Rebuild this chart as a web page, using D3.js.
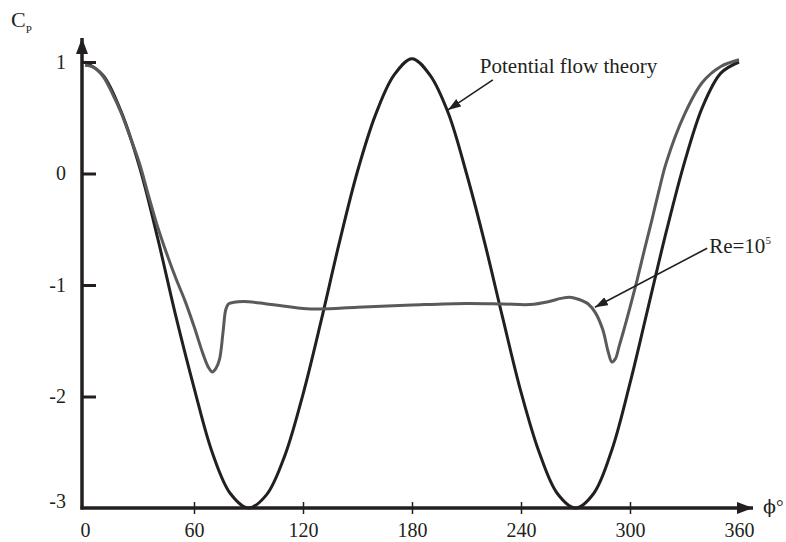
<!DOCTYPE html>
<html>
<head>
<meta charset="utf-8">
<script src="https://cdn.jsdelivr.net/npm/d3@7"></script>
<style>
  body { margin: 0; background: #fff; }
  svg { display: block; font-family: "Liberation Serif", "Times New Roman", serif; }
</style>
</head>
<body>
<svg id="chart"></svg>
<script>
//Data (phi in degrees, Cp)
const potentialPhi = [0, 10, 20, 30, 40, 50, 60, 70, 80, 90, 100, 110, 120, 130, 140, 150, 160, 170, 180,
                      190, 200, 210, 220, 230, 240, 250, 260, 270, 280, 290, 300, 310, 320, 330, 340, 350, 360];
const potentialCp = [1.0, 0.88, 0.55, 0.06, -0.58, -1.28, -1.92, -2.5, -2.87, -3.0, -2.88, -2.53, -1.98, -1.32, -0.62, 0.02, 0.53, 0.88, 1.03,
                     0.88, 0.54, 0.0, -0.62, -1.3, -1.96, -2.5, -2.87, -3.0, -2.87, -2.48, -1.88, -1.2, -0.52, 0.1, 0.6, 0.9, 1.0];

const rePhi = [0, 5, 10, 15, 20, 25, 30, 35, 40, 45, 50, 55, 60, 65, 68, 70, 72, 74, 76, 77.5, 79, 82, 90, 100, 110, 120, 130, 150, 180,
               210, 230, 245, 255, 262, 267, 272, 277, 281, 285, 288, 290, 292, 294, 297, 300, 304, 308, 312, 316, 320, 330, 340, 350, 360];
const reCp = [0.97, 0.95, 0.87, 0.72, 0.54, 0.32, 0.09, -0.2, -0.48, -0.72, -0.94, -1.14, -1.37, -1.62, -1.74, -1.78, -1.75, -1.67, -1.42, -1.22, -1.17, -1.155, -1.15, -1.17, -1.19, -1.21, -1.215, -1.2, -1.18,
              -1.165, -1.17, -1.175, -1.15, -1.12, -1.11, -1.13, -1.17, -1.25, -1.4, -1.6, -1.69, -1.66, -1.55, -1.38, -1.2, -0.95, -0.68, -0.42, -0.15, 0.1, 0.53, 0.82, 0.96, 1.02];

const xTicks = [0, 60, 120, 180, 240, 300, 360];
const yTicks = [-3, -2, -1, 0, 1];

//Annotations: label, tail point, tip point (phi, Cp)
const annotations = [
  {label: "Potential flow theory", tail: [224.5, 0.84], tip: [199.8, 0.57]},
  {label: "Re=10", sup: "5", tail: [342.5, -0.67], tip: [280.7, -1.2]}
];

const w = 786;
const h = 542;
const ink = "#231f20";
const grey = "#5a5a5a";

const xScale = d3.scaleLinear().domain([0, 360]).range([85, 739]);
const yScale = d3.scaleLinear().domain([-3, 1]).range([508, 62]);

const chart = d3.select("#chart").attr("width", w).attr("height", h);

//Arrow heads
const defs = chart.append("defs");
defs.append("marker")
    .attr("id", "bigArrow")
    .attr("viewBox", "0 0 16 12")
    .attr("refX", 16).attr("refY", 6)
    .attr("markerWidth", 16).attr("markerHeight", 12)
    .attr("markerUnits", "userSpaceOnUse")
    .attr("orient", "auto")
    .append("path").attr("d", "M0,0 L16,6 L0,12 Z").attr("fill", ink);
defs.append("marker")
    .attr("id", "smallArrow")
    .attr("viewBox", "0 0 13 9")
    .attr("refX", 13).attr("refY", 4.5)
    .attr("markerWidth", 13).attr("markerHeight", 9)
    .attr("markerUnits", "userSpaceOnUse")
    .attr("orient", "auto")
    .append("path").attr("d", "M0,0 L13,4.5 L0,9 Z").attr("fill", ink);

//Axes
const x0 = xScale(0) - 3;
const y0 = yScale(-3);

const yAxis = d3.axisLeft(yScale).tickValues(yTicks).tickSize(-14).tickPadding(16).tickFormat(d => String(d));
const gy = chart.append("g")
    .attr("transform", "translate(" + x0 + ",0)")
    .call(yAxis);
gy.select(".domain").remove();
gy.selectAll("line").attr("stroke", ink).attr("stroke-width", 3);
gy.selectAll(".tick").filter(d => d === -3).select("line").remove();
gy.selectAll("text")
  .attr("fill", ink)
  .attr("font-size", 20)
  .attr("font-family", "Liberation Serif, serif")
  .attr("dy", d => d === -3 ? "-0.05em" : "0.32em");

const xAxis = d3.axisBottom(xScale).tickValues(xTicks).tickSize(6).tickFormat(d => String(d));
const gx = chart.append("g")
    .attr("transform", "translate(0," + y0 + ")")
    .call(xAxis);
gx.select(".domain").remove();
gx.selectAll("line").attr("y1", -6).attr("y2", 6).attr("stroke", ink).attr("stroke-width", 1.5);
gx.selectAll(".tick").filter(d => d === 0 || d === 360).select("line").remove();
gx.selectAll("text")
  .attr("fill", ink)
  .attr("font-size", 20)
  .attr("font-family", "Liberation Serif, serif")
  .attr("y", 29)
  .attr("dy", 0);

chart.append("line")
     .attr("x1", x0).attr("y1", y0 + 1.5)
     .attr("x2", x0).attr("y2", 38)
     .attr("stroke", ink).attr("stroke-width", 3.5)
     .attr("marker-end", "url(#bigArrow)");
chart.append("line")
     .attr("x1", x0 - 1.5).attr("y1", y0)
     .attr("x2", 753).attr("y2", y0)
     .attr("stroke", ink).attr("stroke-width", 3.5)
     .attr("marker-end", "url(#bigArrow)");

//Axis labels
const cp = chart.append("text").attr("x", 11).attr("y", 27).attr("fill", ink).attr("font-size", 22);
cp.append("tspan").text("C");
cp.append("tspan").attr("font-size", 11).attr("dy", 6).text("P");

const phi = chart.append("text")
     .attr("x", 763).attr("y", 513)
     .attr("fill", ink).attr("font-size", 19);
phi.append("tspan").attr("font-family", "DejaVu Serif, serif").text("\u03D5");
phi.append("tspan").attr("font-family", "Liberation Serif, serif").text("\u00B0");

//Curves
const line = d3.line()
    .x(d => xScale(d[0]))
    .y(d => yScale(d[1]))
    .curve(d3.curveCatmullRom.alpha(0.5));

chart.append("path")
     .datum(potentialPhi.map((p, i) => [p, potentialCp[i]]))
     .attr("d", line)
     .attr("fill", "none")
     .attr("stroke", ink)
     .attr("stroke-width", 3);

chart.append("path")
     .datum(rePhi.map((p, i) => [p, reCp[i]]))
     .attr("d", line)
     .attr("fill", "none")
     .attr("stroke", grey)
     .attr("stroke-width", 3);

//Annotations
annotations.forEach(a => {
  chart.append("line")
       .attr("x1", xScale(a.tail[0])).attr("y1", yScale(a.tail[1]))
       .attr("x2", xScale(a.tip[0])).attr("y2", yScale(a.tip[1]))
       .attr("stroke", ink).attr("stroke-width", 1.6)
       .attr("marker-end", "url(#smallArrow)");
});

chart.append("text")
     .attr("x", xScale(annotations[0].tail[0]) - 13).attr("y", yScale(annotations[0].tail[1]) - 7)
     .attr("fill", ink).attr("font-size", 21)
     .text(annotations[0].label);

const re = chart.append("text")
     .attr("x", xScale(annotations[1].tail[0]) + 2).attr("y", yScale(annotations[1].tail[1]) + 5)
     .attr("fill", ink).attr("font-size", 21);
re.append("tspan").text(annotations[1].label);
re.append("tspan").attr("font-size", 11).attr("dy", -9).text(annotations[1].sup);
</script>
</body>
</html>
